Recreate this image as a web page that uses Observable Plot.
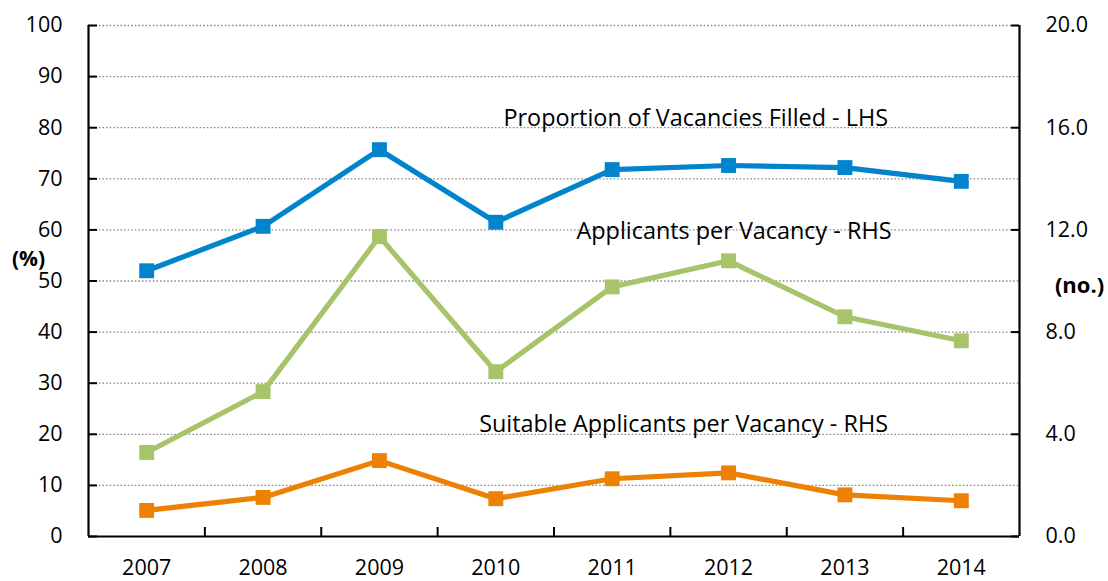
<!DOCTYPE html>
<html>
<head>
<meta charset="utf-8">
<script src="https://cdn.jsdelivr.net/npm/d3@7"></script>
<script src="https://cdn.jsdelivr.net/npm/@observablehq/plot@0.6"></script>
<style>
  html, body { margin: 0; padding: 0; background: #fff; }
  #chart svg { display: block; }
</style>
</head>
<body>
<div id="chart"></div>
<script>
// ---- Data ----
const years = [2007, 2008, 2009, 2010, 2011, 2012, 2013, 2014];
const proportionFilled = [52.0, 60.7, 75.7, 61.5, 71.8, 72.6, 72.2, 69.5];      // LHS (%)
const applicantsPerVacancy = [3.29, 5.67, 11.74, 6.45, 9.77, 10.79, 8.60, 7.66]; // RHS (no.)
const suitablePerVacancy = [1.02, 1.53, 2.97, 1.48, 2.26, 2.49, 1.63, 1.40];     // RHS (no.)
const seriesNames = [
  "Proportion of Vacancies Filled - LHS",
  "Applicants per Vacancy - RHS",
  "Suitable Applicants per Vacancy - RHS"
];
const seriesColors = ["#0284cc", "#a7c46a", "#ec8104"];
const lhsTicks = [0, 10, 20, 30, 40, 50, 60, 70, 80, 90, 100];
const rhsTicks = [0, 4, 8, 12, 16, 20];
const lhsUnit = "(%)";
const rhsUnit = "(no.)";

// ---- Build table ----
const lhsMax = 100, rhsMax = 20;
const k = lhsMax / rhsMax; // RHS -> LHS scale factor
const rows = [];
years.forEach((yr, i) => {
  rows.push({year: yr, series: seriesNames[0], v: proportionFilled[i]});
  rows.push({year: yr, series: seriesNames[1], v: applicantsPerVacancy[i] * k});
  rows.push({year: yr, series: seriesNames[2], v: suitablePerVacancy[i] * k});
});
const xDomain = [years[0] - 0.5, years[years.length - 1] + 0.5];
const boundaries = years.slice(1).map(y => y - 0.5);

const W = 1108, H = 581;
const mL = 88, mR = 89, mT = 25, mB = 45;
const fw = W - mL - mR, fh = H - mT - mB;
const font = "'Open Sans', Lato, sans-serif";

// label anchors (data space), right-aligned
const labelAnchors = [
  {label: seriesNames[0], x: 2013.37, y: 81.8},
  {label: seriesNames[1], x: 2013.40, y: 59.6},
  {label: seriesNames[2], x: 2013.37, y: 21.9}
];

const chart = Plot.plot({
  width: W, height: H,
  marginLeft: mL, marginRight: mR, marginTop: mT, marginBottom: mB,
  style: {fontFamily: font, fontSize: "21.5px", color: "#000", background: "#fff"},
  x: {domain: xDomain},
  y: {domain: [0, lhsMax]},
  color: {domain: seriesNames, range: seriesColors},
  marks: [
    Plot.gridY(lhsTicks.filter(d => d > 0), {stroke: "#8a8a8a", strokeOpacity: 1, strokeWidth: 1.3, strokeDasharray: "1.6,2"}),
    // left ticks (inward)
    Plot.tickY(lhsTicks, {y: d => d, insetRight: fw - 9, stroke: "#000", strokeWidth: 2}),
    // right ticks (inward)
    Plot.tickY(rhsTicks.map(d => d * k), {y: d => d, insetLeft: fw - 8, stroke: "#000", strokeWidth: 2}),
    // category boundary ticks on x axis (inward)
    Plot.tickX(boundaries, {x: d => d, insetTop: fh - 9, stroke: "#000", strokeWidth: 2}),
    // axis lines
    Plot.ruleY([0], {stroke: "#000", strokeWidth: 2.2}),
    Plot.ruleX(xDomain, {stroke: "#000", strokeWidth: 2.2}),
    Plot.axisY(lhsTicks, {anchor: "left", tickSize: 0, tickPadding: 26, fontSize: 21.5, label: null}),
    Plot.axisY(rhsTicks.map(d => d * k), {anchor: "right", tickSize: 0, tickPadding: 26, fontSize: 21.5, label: null,
      tickFormat: d => (d / k).toFixed(1)}),
    Plot.axisX(years, {anchor: "bottom", tickSize: 0, tickPadding: 23, fontSize: 21.5, label: null,
      tickFormat: d => String(d)}),
    // series
    Plot.line(rows, {x: "year", y: "v", z: "series", stroke: "series", strokeWidth: 5.2, strokeLinejoin: "miter"}),
    Plot.dot(rows, {x: "year", y: "v", fill: "series", symbol: "square", r: 8.4}),
    // annotations
    Plot.text(labelAnchors, {x: "x", y: "y", text: "label", textAnchor: "end", fontSize: 23.4, fill: "#000"}),
    Plot.text([lhsUnit], {frameAnchor: "left", y: () => 54.2, dx: -60, text: d => d, fontSize: 21, fontWeight: "bold", textAnchor: "middle"}),
    Plot.text([rhsUnit], {frameAnchor: "right", y: () => 49.0, dx: 60, text: d => d, fontSize: 22, fontWeight: "bold", textAnchor: "middle"})
  ]
});
document.getElementById("chart").appendChild(chart);
</script>
</body>
</html>
